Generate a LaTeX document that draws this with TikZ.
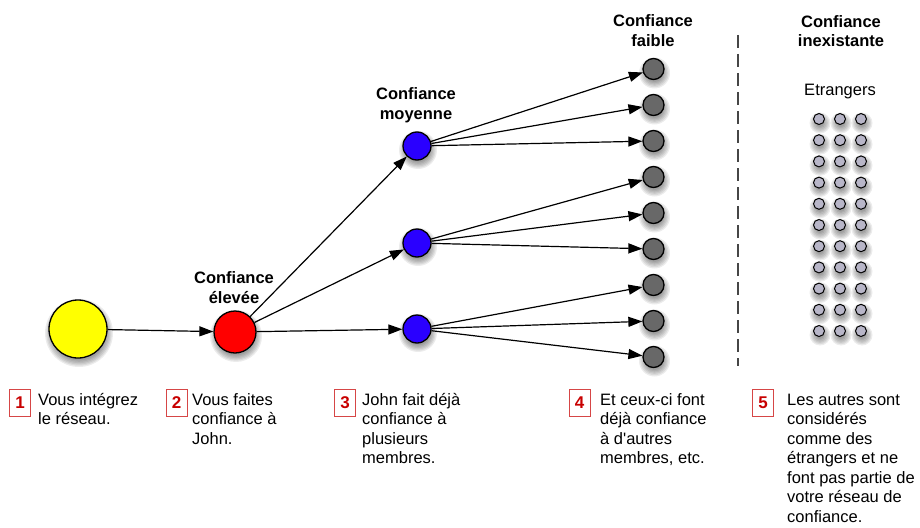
\documentclass[tikz,border=0pt]{standalone}
\usepackage{fontspec}
\setmainfont{Liberation Sans}
\usepackage{xcolor}
\usetikzlibrary{arrows.meta}

\definecolor{youyellow}{RGB}{255,255,0}
\definecolor{johnred}{RGB}{255,0,0}
\definecolor{midblue}{RGB}{42,0,255}
\definecolor{lowgray}{RGB}{104,104,104}
\definecolor{strangergray}{RGB}{184,182,200}
\definecolor{boxred}{RGB}{214,70,70}
\definecolor{numred}{RGB}{200,0,0}
\definecolor{dashgray}{RGB}{70,70,70}

% soft shadow under a circle: x, y, radius
\newcommand{\softshade}[3]{%
  \foreach \k in {0,...,5}
    {\fill[black,opacity=0.075] ({#1+1},{#2+4}) circle ({#3+5-1.3*\k});}%
}

\tikzset{
  person/.style={circle,draw=black,line width=1.3pt,inner sep=0pt},
  trustarrow/.style={-{Triangle[length=14pt,width=10pt]},line width=1.2pt},
  levellabel/.style={font=\fontsize{16.5}{19.5}\selectfont\bfseries,align=center,anchor=base,inner sep=0pt},
  stepnum/.style={draw=boxred,line width=0.9pt,text=numred,font=\fontsize{17}{20}\selectfont\bfseries,
    minimum width=21pt,minimum height=27pt,inner sep=0pt},
  steptext/.style={font=\fontsize{16.5}{19.5}\selectfont,align=left,anchor=base west,inner sep=0pt},
}

\begin{document}
\begin{tikzpicture}[x=1pt,y=-1pt]
  \useasboundingbox (0,0) rectangle (920,527);

  % shadows
  \softshade{78}{329}{29}
  \softshade{235}{332}{21}
  \foreach \y in {146,243,329}
    {\softshade{417}{\y}{14}}
  \foreach \i in {1,...,9}
    {\softshade{653.5}{69+36*(\i-1)}{10.5}}
  \foreach \x in {819,840,861}
    {\foreach \r in {0,...,10}
      {\softshade{\x}{119+21.2*\r}{5.5}}}

  % trust levels
  \node[person,fill=youyellow,minimum size=58pt] (you) at (78,329) {};
  \node[person,fill=johnred,minimum size=42pt] (john) at (235,332) {};
  \foreach \m/\y in {1/146,2/243,3/329}
    \node[person,fill=midblue,minimum size=28pt] (m\m) at (417,\y) {};
  \foreach \i in {1,...,9}
    \node[person,fill=lowgray,minimum size=21pt] (f\i) at (653.5,{69+36*(\i-1)}) {};

  % strangers
  \foreach \c/\x in {1/819,2/840,3/861}
    \foreach \r in {0,...,10}
      \node[person,fill=strangergray,minimum size=11pt,line width=1pt] (s\c-\r) at (\x,{119+21.2*\r}) {};

  % arrows
  \draw[trustarrow] (you) -- (john);
  \foreach \m in {1,2,3}
    \draw[trustarrow] (john) -- (m\m);
  \foreach \m/\a/\b/\c in {1/1/2/3,2/4/5/6,3/7/8/9}
    \foreach \f in {\a,\b,\c}
      \draw[trustarrow] (m\m) -- (f\f);

  % separator
  \coordinate (sepTop) at (738,35);
  \coordinate (sepBot) at (738,366);
  \draw[dashgray,line width=2pt,dash pattern=on 13pt off 6pt] (sepTop) -- (sepBot);

  % labels (anchor = last line baseline)
  \node[levellabel] (lblHigh) at (234,303) {Confiance\\élevée};
  \node[levellabel] (lblMid) at (416,119) {Confiance\\moyenne};
  \node[levellabel] (lblLow) at (653,46.5) {Confiance\\faible};
  \node[levellabel] (lblNone) at (841,47) {Confiance\\inexistante};
  \node[font=\fontsize{16.5}{19.5}\selectfont,anchor=base,inner sep=0pt] (lblStr) at (840,95) {Etrangers};

  % steps
  \node[stepnum] (n1) at (20,402.5) {1};
  \node[steptext] (t1) at (38,424.5) {Vous intégrez\\le réseau.};
  \node[stepnum] (n2) at (176.5,402.5) {2};
  \node[steptext] (t2) at (192,444) {Vous faites\\confiance à\\John.};
  \node[stepnum] (n3) at (345,402.5) {3};
  \node[steptext] (t3) at (362,463.5) {John fait déjà\\confiance à\\plusieurs\\membres.};
  \node[stepnum] (n4) at (579.5,402.5) {4};
  \node[steptext] (t4) at (600,463.5) {Et ceux-ci font\\déjà confiance\\à d\textquotesingle autres\\membres, etc.};
  \node[stepnum] (n5) at (763,402.5) {5};
  \node[steptext] (t5) at (787,522) {Les autres sont\\considérés\\comme des\\étrangers et ne\\font pas partie de\\votre réseau de\\confiance.};
\end{tikzpicture}
\end{document}
